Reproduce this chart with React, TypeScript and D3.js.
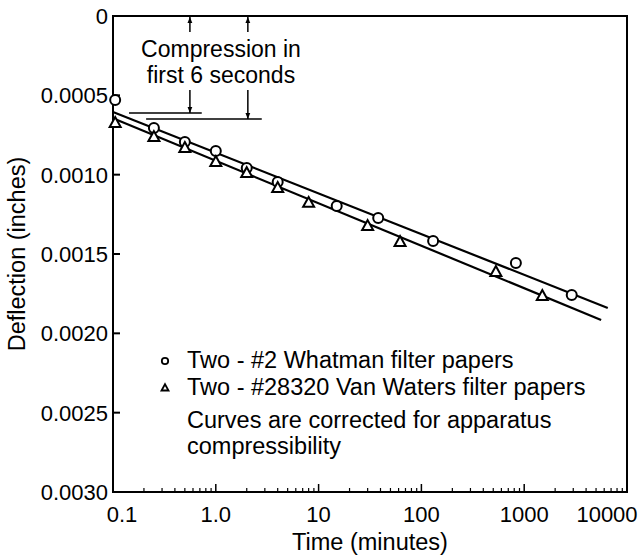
import React from "react";
import * as d3 from "d3";

// ---- data ----
const circleTimes = [0.105, 0.25, 0.5, 1, 2, 4, 15, 38, 130, 830, 2900];
const circleDefl = [0.00053, 0.000706, 0.000794, 0.000851, 0.000958, 0.001046, 0.001197, 0.001273, 0.001418, 0.001557, 0.001758];
const triangleTimes = [0.105, 0.25, 0.5, 1, 2, 4, 8, 30, 62, 530, 1500];
const triangleDefl = [0.000674, 0.000763, 0.000832, 0.00092, 0.00099, 0.001084, 0.001178, 0.001324, 0.001424, 0.001613, 0.001765];
const upperFitTimes = [0.1, 6500];
const upperFitDefl = [0.000605, 0.00184];
const lowerFitTimes = [0.1, 5600];
const lowerFitDefl = [0.000645, 0.001916];
const xTickValues = [0.1, 1, 10, 100, 1000, 10000];
const xTickLabels = ["0.1", "1.0", "10", "100", "1000", "10000"];
const yTickValues = [0, 0.0005, 0.001, 0.0015, 0.002, 0.0025, 0.003];
const yTickLabels = ["0", "0.0005", "0.0010", "0.0015", "0.0020", "0.0025", "0.0030"];
// compression annotation
const compArrowTimes = [0.56, 2.05];
const compLineStart = [0.143, 0.21];
const compLineEnd = [0.73, 2.8];
const compLevels = [0.000611, 0.000649];
const legendLabels = ["Two - #2 Whatman filter papers", "Two - #28320 Van Waters filter papers"];
const noteLines = ["Curves are corrected for apparatus", "compressibility"];

const W = 642, H = 560;
const L = 113, R = 627, T = 16, B = 492;
const FONT = "'Liberation Sans', Arial, Helvetica, sans-serif";

export default function App() {
  const x = d3.scaleLog().domain([0.1, 10000]).range([L, R]);
  const y = d3.scaleLinear().domain([0, 0.003]).range([T, B]);
  const line = d3.line<[number, number]>().x(d => x(d[0])).y(d => y(d[1]));
  const minor: number[] = [];
  for (let e = -1; e < 4; e++) for (let k = 2; k <= 9; k++) minor.push(k * Math.pow(10, e));
  const tri = (cx: number, cy: number, s: number) => {
    const h = s * 0.9;
    return `M${cx},${cy - h * 0.6}L${cx + s / 2},${cy + h * 0.4}L${cx - s / 2},${cy + h * 0.4}Z`;
  };
  const fsTick = 22;
  const fsTitle = 23.5;
  const fsNote = 23;
  const fsLeg = 23.5;
  const legX = 187;
  const mkX = 165;
  return (
    <div style={{ position: "absolute", left: 0, top: 0 }}>
      <svg width={W} height={H} style={{ display: "block", background: "#fff" }} fontFamily={FONT}>
        <rect x={L} y={T} width={R - L} height={B - T} fill="none" stroke="#000" strokeWidth={2} />
        {yTickValues.map((v, i) => (
          <g key={"y" + i}>
            {i > 0 && i < yTickValues.length - 1 && (
              <line x1={L} x2={L + 7} y1={y(v)} y2={y(v)} stroke="#000" strokeWidth={2} />
            )}
            <text x={L - 5} y={y(v)} dy="0.36em" textAnchor="end" fontSize={fsTick}>{yTickLabels[i]}</text>
          </g>
        ))}
        {xTickValues.map((v, i) => (
          <g key={"x" + i}>
            {i > 0 && i < xTickValues.length - 1 && (
              <line x1={x(v)} x2={x(v)} y1={B} y2={B - 8} stroke="#000" strokeWidth={1.5} />
            )}
            <text x={x(v) + (i === 0 ? 9 : i === xTickValues.length - 1 ? -20 : 0)} y={B + 30} textAnchor="middle" fontSize={fsTick}>{xTickLabels[i]}</text>
          </g>
        ))}
        {minor.map((v, i) => (
          <line key={"m" + i} x1={x(v)} x2={x(v)} y1={B} y2={B - 4} stroke="#000" strokeWidth={1.2} />
        ))}
        <text x={(L + R) / 2} y={550} textAnchor="middle" fontSize={fsTitle}>Time (minutes)</text>
        <text transform={`translate(25,${(T + B) / 2}) rotate(-90)`} textAnchor="middle" fontSize={fsTitle}>Deflection (inches)</text>
        <path d={line(upperFitTimes.map((t, i) => [t, upperFitDefl[i]]) as [number, number][]) || ""} fill="none" stroke="#000" strokeWidth={2.2} />
        <path d={line(lowerFitTimes.map((t, i) => [t, lowerFitDefl[i]]) as [number, number][]) || ""} fill="none" stroke="#000" strokeWidth={2.2} />
        {circleTimes.map((t, i) => (
          <circle key={"c" + i} cx={x(t)} cy={y(circleDefl[i])} r={5} fill="#fff" stroke="#000" strokeWidth={2} />
        ))}
        {triangleTimes.map((t, i) => (
          <path key={"t" + i} d={tri(x(t), y(triangleDefl[i]), 11)} fill="#fff" stroke="#000" strokeWidth={2} />
        ))}
        <defs>
          <marker id="ah" viewBox="0 0 10 10" refX={10} refY={5} markerWidth={6} markerHeight={8} orient="auto-start-reverse" markerUnits="userSpaceOnUse">
            <path d="M0,1L10,5L0,9Z" fill="#000" />
          </marker>
        </defs>
        {compArrowTimes.map((t, i) => (
          <g key={"a" + i}>
            <line x1={x(t)} x2={x(t)} y1={T + 16} y2={T + 1} stroke="#000" strokeWidth={1.5} markerEnd="url(#ah)" />
            <line x1={x(t)} x2={x(t)} y1={90} y2={y(compLevels[i])} stroke="#000" strokeWidth={1.5} markerEnd="url(#ah)" />
            <line x1={x(compLineStart[i])} x2={x(compLineEnd[i])} y1={y(compLevels[i])} y2={y(compLevels[i])} stroke="#000" strokeWidth={1.5} />
          </g>
        ))}
        <text x={221} y={57} textAnchor="middle" fontSize={fsNote}>Compression in</text>
        <text x={221} y={83} textAnchor="middle" fontSize={fsNote}>first 6 seconds</text>
        <circle cx={mkX} cy={361} r={3.2} fill="#fff" stroke="#000" strokeWidth={1.8} />
        <text x={legX} y={368} fontSize={fsLeg}>{legendLabels[0]}</text>
        <path d={tri(mkX, 388, 7)} fill="#fff" stroke="#000" strokeWidth={1.8} />
        <text x={legX} y={395} fontSize={fsLeg}>{legendLabels[1]}</text>
        <text x={legX} y={428} fontSize={fsLeg}>{noteLines[0]}</text>
        <text x={legX} y={454} fontSize={fsLeg}>{noteLines[1]}</text>
      </svg>
    </div>
  );
}
